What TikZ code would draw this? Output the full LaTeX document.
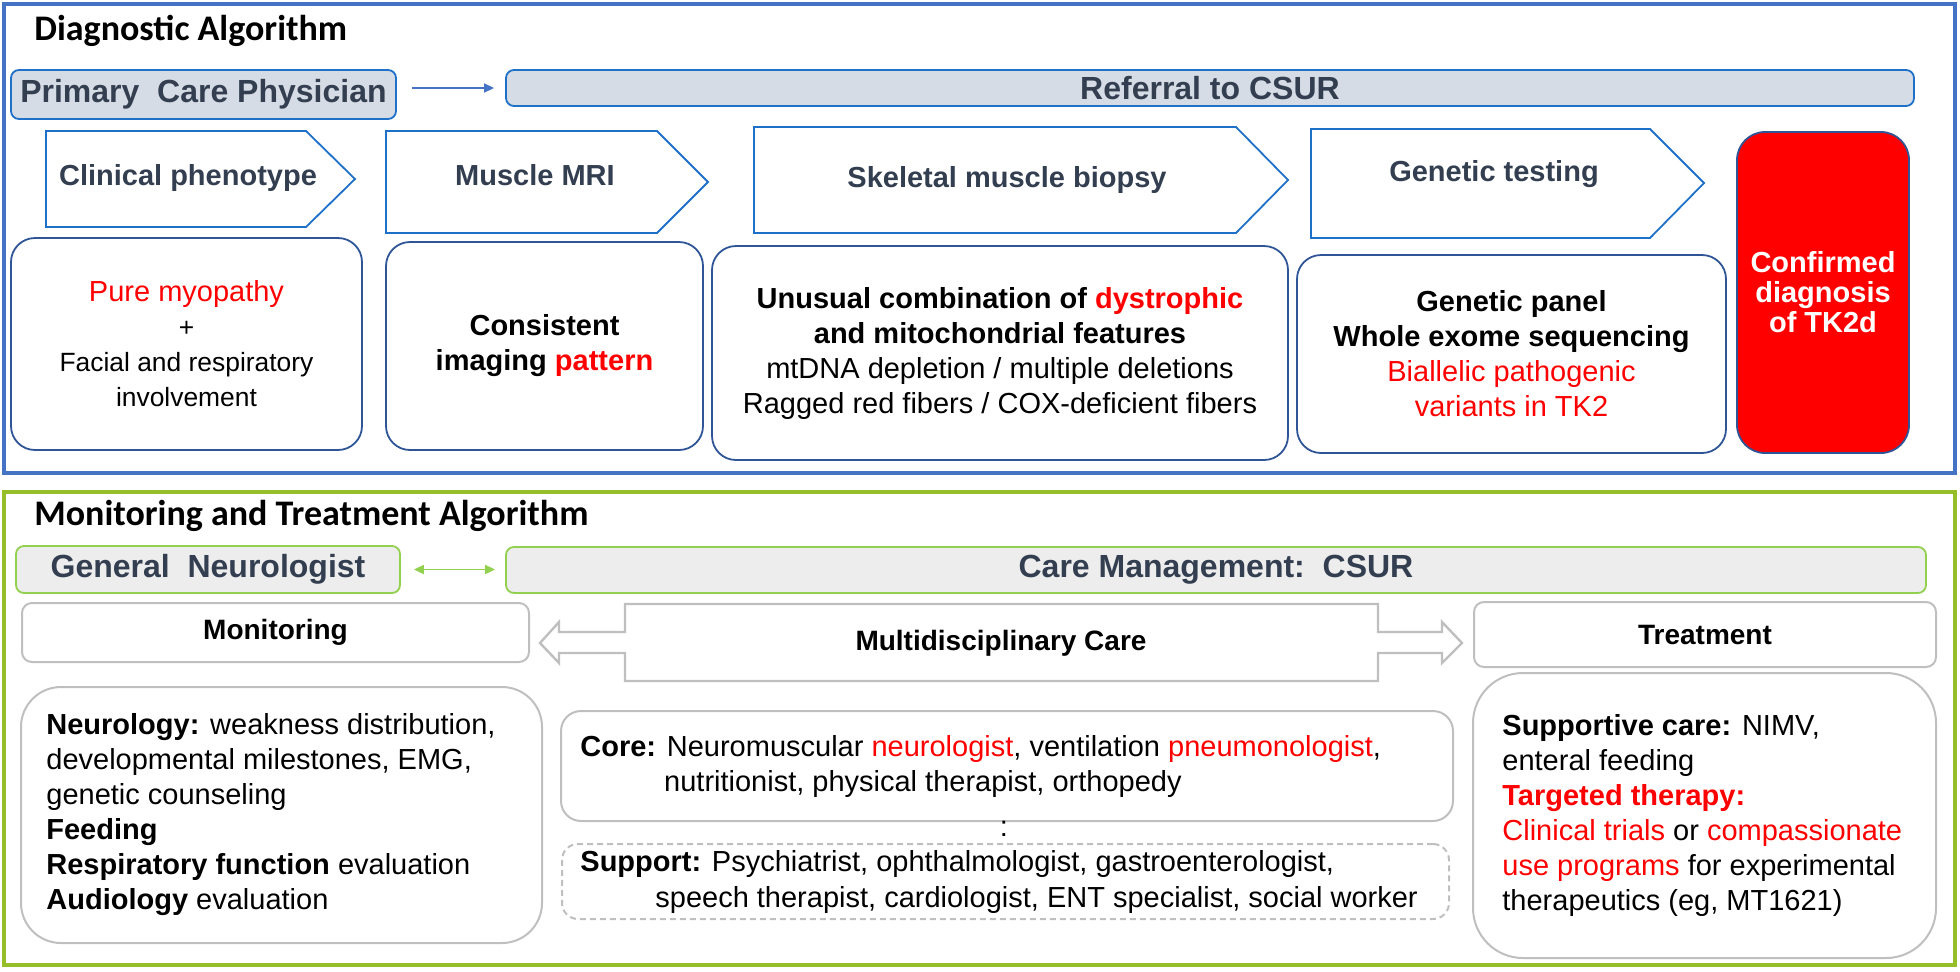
\documentclass[tikz,border=0pt]{standalone}
\usepackage{fontspec}
\setmainfont{Liberation Sans}
\newfontfamily\titlefont{Carlito}
\usetikzlibrary{arrows.meta,positioning}

\definecolor{frameblue}{RGB}{68,114,196}
\definecolor{stepblue}{RGB}{30,112,200}
\definecolor{boxnavy}{RGB}{47,85,151}
\definecolor{headfill}{RGB}{214,220,229}
\definecolor{headtext}{RGB}{51,63,80}
\definecolor{framegreen}{RGB}{150,190,40}
\definecolor{lightgreen}{RGB}{146,208,80}
\definecolor{headgray}{RGB}{237,237,237}
\definecolor{linegray}{RGB}{191,191,191}

\newcommand{\bodyfs}{\fontsize{14.5}{17.5}\selectfont}
\newcommand{\headfs}{\fontsize{16}{18}\selectfont}
\newcommand{\smallfs}{\fontsize{13.2}{17.5}\selectfont}

\begin{document}
\begin{tikzpicture}[x=0.5pt, y=-0.5pt]
        \tikzstyle{blue frame}=[draw=frameblue, line width=1.75pt]
        \tikzstyle{green frame}=[draw=framegreen, line width=1.75pt]
        \tikzstyle{section title}=[anchor=base west, inner sep=0pt, font=\titlefont\fontsize{18}{20}\selectfont\bfseries]
        \tikzstyle{head box}=[rounded corners=4pt, line width=0.9pt, inner sep=0pt, text=headtext, font=\headfs\bfseries]
        \tikzstyle{step shape}=[draw=stepblue, line width=0.9pt]
        \tikzstyle{step text}=[text=headtext, font=\fontsize{14.5}{17}\selectfont\bfseries]
        \tikzstyle{info box}=[draw=boxnavy, line width=0.9pt, rounded corners=12pt, align=center, inner sep=0pt, font=\bodyfs]
        \tikzstyle{gray box}=[draw=linegray, line width=1pt, inner sep=0pt]
        \tikzstyle{gray title}=[font=\fontsize{14}{16}\selectfont\bfseries]
        \tikzstyle{list text}=[anchor=west, align=left, inner sep=0pt, font=\bodyfs]
        \tikzstyle{flow arrow}=[-{Triangle[length=5pt,width=4.5pt]}, line width=0.7pt, draw=frameblue]
        \tikzstyle{both arrow}=[{Triangle[length=5pt,width=4.5pt]}-{Triangle[length=5pt,width=4.5pt]}, line width=0.9pt, draw=lightgreen]

        \useasboundingbox (0,0) rectangle (1960,971);

        % diagnostic part
        \draw [style=blue frame] (4,4) rectangle (1955,473);
        \node [style=section title] (diag) at (34,40) {Diagnostic Algorithm};
        \node [style=head box, draw=stepblue, fill=headfill, minimum width=192.5pt, minimum height=24.5pt] (pcp) at (203.5,94.5) {Primary\ \ Care Physician};
        \node [style=head box, draw=stepblue, fill=headfill, minimum width=704pt, minimum height=18pt] (csur) at (1210,88) {Referral to CSUR};
        \draw [style=flow arrow, shorten <=7.5pt, shorten >=5.5pt] (pcp.east |- csur.west) to (csur.west);

        \draw [style=step shape] (46,131) -- (306,131) -- (355,179) -- (306,227) -- (46,227) -- cycle;
        \draw [style=step shape] (386,131) -- (657,131) -- (708,182) -- (657,233) -- (386,233) -- cycle;
        \draw [style=step shape] (754,127) -- (1236,127) -- (1288,180) -- (1236,233) -- (754,233) -- cycle;
        \draw [style=step shape] (1311,129) -- (1650,129) -- (1704,183) -- (1650,238) -- (1311,238) -- cycle;
        \node [style=step text] (clinical) at (188,178) {Clinical phenotype};
        \node [style=step text] (mri) at (535,175) {Muscle MRI};
        \node [style=step text] (biopsy) at (1007,180) {Skeletal muscle biopsy};
        \node [style=step text] (genetic) at (1494,174) {Genetic testing};

        \node [style=info box, minimum width=175.5pt, minimum height=106pt] (pure) at (186.5,344) {\textcolor{red}{Pure myopathy}\\{\smallfs +}\\{\smallfs Facial and respiratory}\\{\smallfs involvement}};
        \node [style=info box, minimum width=158.5pt, minimum height=104pt] (imaging) at (544.5,346) {\textbf{Consistent}\\\textbf{imaging \textcolor{red}{pattern}}};
        \node [style=info box, minimum width=288pt, minimum height=107pt] (features) at (1000,353) {\textbf{Unusual combination of \textcolor{red}{dystrophic}}\\\textbf{and mitochondrial features}\\mtDNA depletion / multiple deletions\\Ragged red fibers / COX-deficient fibers};
        \node [style=info box, minimum width=214.5pt, minimum height=99pt] (panel) at (1511.5,354) {\textbf{Genetic panel}\\\textbf{Whole exome sequencing}\\\textcolor{red}{Biallelic pathogenic}\\\textcolor{red}{variants in TK2}};
        \node [style=info box, fill=red, rounded corners=14pt, text=white, font=\fontsize{14.5}{15}\selectfont\bfseries, minimum width=86pt, minimum height=160.5pt] (tk2d) at (1823,292.5) {Confirmed\\diagnosis\\of TK2d};

        % monitoring part
        \draw [style=green frame] (4,492) rectangle (1955,965);
        \node [style=section title] (monalg) at (34,525) {Monitoring and Treatment Algorithm};
        \node [style=head box, draw=lightgreen, fill=headgray, minimum width=192pt, minimum height=23.5pt] (gn) at (208,569.5) {General\ \ Neurologist};
        \node [style=head box, draw=lightgreen, fill=headgray, minimum width=710pt, minimum height=23pt] (cm) at (1216,570) {Care Management:\ \ CSUR};
        \draw [style=both arrow, shorten <=6.5pt, shorten >=5pt] (gn.east) to (gn.east -| cm.west);

        \node [style=gray box, style=gray title, rounded corners=5pt, minimum width=253.5pt, minimum height=29.5pt] (mon) at (275.5,632.5) {Monitoring};
        \node [style=gray box, style=gray title, rounded corners=5pt, minimum width=231pt, minimum height=32.5pt] (treat) at (1705,634.5) {Treatment};
        \draw [draw=linegray, line width=1.2pt] (625,604) -- (1378,604) -- (1378,632) -- (1442,632) -- (1442,622) -- (1462,643) -- (1442,663) -- (1442,653) -- (1378,653) -- (1378,681) -- (625,681) -- (625,653) -- (559,653) -- (559,663) -- (540,643) -- (559,622) -- (559,632) -- (625,632) -- cycle;
        \node [style=gray title] (multi) at (1001,643) {Multidisciplinary Care};

        \node [style=gray box, rounded corners=20pt, minimum width=260.5pt, minimum height=128pt] (neuro) at (281.5,815) {};
        \node [style=list text] (neurotext) at ([xshift=13pt]neuro.west) {\textbf{Neurology:} weakness distribution,\\developmental milestones, EMG,\\genetic counseling\\\textbf{Feeding}\\\textbf{Respiratory function} evaluation\\\textbf{Audiology} evaluation};

        \node [style=gray box, rounded corners=10pt, minimum width=446pt, minimum height=55pt] (core) at (1007,766) {};
        \node [style=list text] (coretext) at ([xshift=10pt]core.west) {\textbf{Core:} Neuromuscular \textcolor{red}{neurologist}, ventilation \textcolor{red}{pneumonologist},\\\phantom{\textbf{Core:}\ }nutritionist, physical therapist, orthopedy};
        \node [font=\bodyfs, inner sep=0pt] (dots) at (1004,829) {:};
        \node [style=gray box, dash pattern=on 3pt off 2pt, rounded corners=8pt, minimum width=443.5pt, minimum height=37.5pt] (support) at (1005.5,881.5) {};
        \node [style=list text, font=\fontsize{14.5}{18}\selectfont] (supporttext) at ([xshift=9.5pt]support.west) {\textbf{Support:} Psychiatrist, ophthalmologist, gastroenterologist,\\\hspace*{37.5pt}speech therapist, cardiologist, ENT specialist, social worker};

        \node [style=gray box, rounded corners=25pt, minimum width=231.5pt, minimum height=142.5pt] (therapy) at (1704.5,815.5) {};
        \node [style=list text] (therapytext) at ([xshift=15pt]therapy.west) {\textbf{Supportive care:} NIMV,\\enteral feeding\\\textcolor{red}{\textbf{Targeted therapy:}}\\\textcolor{red}{Clinical trials} or \textcolor{red}{compassionate}\\\textcolor{red}{use programs} for experimental\\therapeutics (eg, MT1621)};
\end{tikzpicture}
\end{document}
